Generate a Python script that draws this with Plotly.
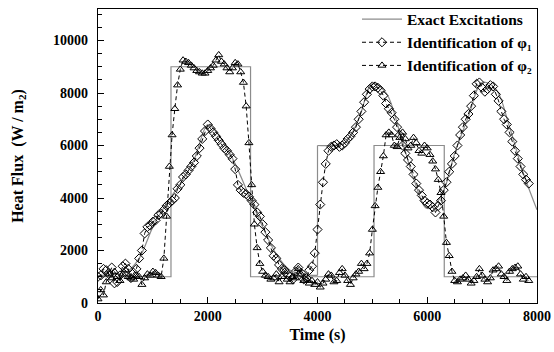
import plotly.graph_objects as go

# ---- Exact excitations ----
exact1_a_t = [0, 250, 500, 750, 1000, 1250, 1500, 1750, 2000, 2250, 2500, 2750, 3000, 3250, 3500, 3750, 4000]
exact1_a_v = [1040, 1080, 1150, 1700, 2900, 3800, 4550, 5450, 6800, 6250, 5300, 4100, 2900, 1850, 1250, 1080, 1050]
exact1_b_t = [4000, 4250, 4500, 4750, 5000, 5250, 5500, 5750, 6000, 6250, 6500, 6750, 7000, 7250, 7500, 7750, 8000]
exact1_b_v = [6000, 6000, 6100, 7000, 8350, 8000, 6500, 4750, 3600, 4050, 5700, 7100, 8400, 8150, 6700, 4950, 3550]
exact2_t = [0, 1330, 1330, 2780, 2780, 5030, 5030, 6310, 6310, 8000]
exact2_v = [1000, 1000, 9000, 9000, 1000, 1000, 6000, 6000, 1000, 1000]

# ---- Identified phi1 (diamonds), every 50 s from 0 to 7850 ----
ident_t = list(range(0, 7900, 50))
ident1_v = [
    1000, 1050, 1300, 1250, 1100, 1350, 750, 800, 1050, 1400, 1500, 1300, 950, 1150,
    1300, 1700, 2000, 2650, 2900, 2950, 3100, 3150, 3350, 3400, 3550, 3700, 3800, 3900,
    4000, 4350, 4500, 4800, 4900, 5050, 5200, 5350, 5600, 5900, 6250, 6550, 6800, 6650,
    6500, 6350, 6200, 6050, 5900, 5800, 5650, 5500, 5100, 4500, 4300, 4200, 4150, 4050,
    3900, 3750, 3450, 3300, 3000, 2700, 2400, 2100, 1800, 1700, 1450, 1300, 1250, 1100,
    1000, 900, 1200, 1350, 1150, 900, 950, 1250, 1400, 1900, 2800, 3750, 4600, 5300,
    5800, 5950, 6000, 6050, 5950, 6000, 6100, 6250, 6350, 6500, 6700, 7000, 7300, 7650,
    7950, 8150, 8250, 8250, 8200, 8100, 7900, 7600, 7400, 7250, 7000, 6700, 6400, 6000,
    5700, 5450, 5200, 4900, 4550, 4300, 4100, 3900, 3800, 3750, 3650, 3450, 3700, 3900,
    4300, 4600, 5000, 5300, 5600, 6000, 6400, 6700, 7000, 7200, 7500, 7900, 8350, 8400,
    8200, 8050, 8150, 8300, 8250, 7950, 7700, 7300, 7000, 6800, 6500, 6150, 5800, 5500,
    5200, 4900, 4700, 4550,
]

# ---- Identified phi2 (triangles), every 50 s from 0 to 7850 ----
ident2_v = [
    150, 500, 300, 800, 1100, 950, 1200, 1000, 850, 1100, 1250, 1000, 950, 900,
    1050, 1000, 700, 950, 1100, 1050, 1200, 1150, 1050, 1000, 1700, 3300, 5200, 6400,
    7400, 8300, 8900, 9250, 9200, 9150, 9050, 8950, 8850, 8800, 8750, 8750, 8850, 8950,
    9050, 9250, 9450, 9200, 9100, 8950, 8800, 8950, 9150, 9100, 8800, 8400, 7500, 6100,
    4500, 3000, 2100, 1500, 1200, 1050, 1000, 900, 950, 1100, 800, 1000, 1200, 900,
    800, 1000, 950, 1300, 1100, 850, 900, 750, 850, 700, 800, 600, 750, 900,
    1100, 1050, 800, 850, 1150, 1300, 1050, 850, 700, 950, 1100, 1200, 1500, 1300,
    1500, 1900, 2800, 3700, 4400, 5000, 5600, 6400, 6500, 6400, 6000, 5950, 6300, 6500,
    6250, 5900, 6000, 6300, 6100, 5800, 5700, 6000, 5900, 5650, 5400, 5100, 4700, 4200,
    3300, 2300, 1800, 1200, 850, 800, 900, 950, 1050, 900, 750, 850, 1000, 1300,
    1050, 900, 800, 950, 1250, 1300, 1400, 1100, 1000, 850, 1200, 1300, 1350, 1400,
    1100, 900, 1000, 850,
]

x_ticks = [0, 2000, 4000, 6000, 8000]
y_ticks = [0, 2000, 4000, 6000, 8000, 10000]

GRAY = "#8c8c8c"
FONT = "Liberation Serif"

fig = go.Figure()
fig.add_trace(go.Scatter(x=exact1_a_t, y=exact1_a_v, mode="lines",
                         line=dict(color=GRAY, width=1.2, shape="spline", smoothing=0.8),
                         name="<b>Exact Excitations</b>", legendgroup="ex", showlegend=True))
fig.add_trace(go.Scatter(x=[exact1_a_t[-1], exact1_b_t[0]], y=[exact1_a_v[-1], exact1_b_v[0]], mode="lines",
                         line=dict(color=GRAY, width=1.2), legendgroup="ex", showlegend=False))
fig.add_trace(go.Scatter(x=exact1_b_t, y=exact1_b_v, mode="lines", line=dict(color=GRAY, width=1.2, shape="spline"),
                         legendgroup="ex", showlegend=False))
fig.add_trace(go.Scatter(x=exact2_t, y=exact2_v, mode="lines", line=dict(color=GRAY, width=1.2),
                         legendgroup="ex", showlegend=False))
fig.add_trace(go.Scatter(x=ident_t, y=ident1_v, mode="lines+markers", name="<b>Identification of φ₁</b>",
                         line=dict(color="black", width=1, dash="4px,3px"),
                         marker=dict(symbol="diamond-open", size=7, color="black", line=dict(width=1))))
fig.add_trace(go.Scatter(x=ident_t, y=ident2_v, mode="lines+markers", name="<b>Identification of φ₂</b>",
                         line=dict(color="black", width=1, dash="4px,3px"),
                         marker=dict(symbol="triangle-up-open", size=7, color="black", line=dict(width=1))))

fig.update_layout(
    width=554, height=352,
    margin=dict(l=98, r=14, t=3, b=49),
    paper_bgcolor="white", plot_bgcolor="white",
    font=dict(family=FONT, size=13, color="black"),
    legend=dict(x=1.0, xanchor="right", y=1.022, yanchor="top", bgcolor="rgba(0,0,0,0)",
                font=dict(family=FONT, size=15.5), tracegroupgap=0, itemwidth=40),
)
fig.update_xaxes(range=[0, 8000], tickvals=x_ticks, ticktext=[f"<b>{v}</b>" for v in x_ticks],
                 ticks="inside", ticklen=6, tickwidth=1, tickcolor="black", ticklabeloverflow="allow",
                 minor=dict(dtick=500, ticks="inside", ticklen=4, tickcolor="black"),
                 showline=True, linecolor="black", linewidth=1.2, mirror=True, showgrid=False, zeroline=False,
                 tickfont=dict(family=FONT, size=14),
                 title=dict(text="<b>Time (s)</b>", font=dict(family=FONT, size=16), standoff=5))
fig.update_yaxes(range=[0, 11200], tickvals=y_ticks, ticktext=[f"<b>{v}</b>" for v in y_ticks],
                 ticks="inside", ticklen=6, tickwidth=1, tickcolor="black", ticklabelstandoff=6,
                 minor=dict(dtick=500, ticks="inside", ticklen=4, tickcolor="black"),
                 showline=True, linecolor="black", linewidth=1.2, mirror=True, showgrid=False, zeroline=False,
                 tickfont=dict(family=FONT, size=14),
                 title=dict(text="<b>Heat Flux  (W / m<sub>2</sub>)</b>", font=dict(family=FONT, size=16), standoff=25))

fig.write_html("out.html", config={"displayModeBar": False},
               post_script="document.body.style.margin='0';document.body.style.overflow='hidden';")
